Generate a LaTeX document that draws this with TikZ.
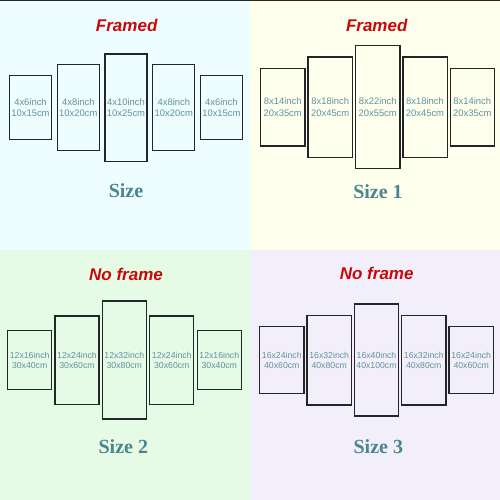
\documentclass[tikz,border=0pt]{standalone}
\usepackage{fontspec}
\setmainfont{Liberation Serif}
\newfontfamily\titlefont{Liberation Sans}
\newfontfamily\panelfont{Liberation Sans}
\definecolor{bgA}{RGB}{238,254,255}
\definecolor{bgB}{RGB}{255,255,238}
\definecolor{bgC}{RGB}{229,251,229}
\definecolor{bgD}{RGB}{243,239,250}
\definecolor{titlered}{RGB}{200,8,10}
\definecolor{sizeteal}{RGB}{74,134,144}
\definecolor{paneltext}{RGB}{96,146,158}
\definecolor{paneledge}{RGB}{35,38,38}
\tikzset{
  panel/.style={draw=paneledge, line width=1.3pt, inner sep=0pt, align=center,
    text=paneltext, font=\panelfont\fontsize{9.4}{11.5}\selectfont},
  panellow/.style={panel, font=\panelfont\fontsize{8.7}{10}\selectfont},
  titletext/.style={text=titlered, font=\titlefont\bfseries\itshape\fontsize{17}{19}\selectfont, inner sep=0pt},
  sizetext/.style={text=sizeteal, font=\bfseries\fontsize{20}{22}\selectfont, inner sep=0pt}
}
\begin{document}
\begin{tikzpicture}[x=1pt,y=-1pt]
\useasboundingbox (0,0) rectangle (500,500);
\fill[bgA] (0,0) rectangle (250,250);
\fill[bgB] (250,0) rectangle (500,250);
\fill[bgC] (0,250) rectangle (250,500);
\fill[bgD] (250,250) rectangle (500,500);
\fill[black!85] (0,0) rectangle (500,1);

% Top-left
\node[titletext] (tA) at (126.7,25) {Framed};
\node[panel, minimum width=42pt, minimum height=63.6pt] (a1) at (30.5,107.5) {4x6inch\\10x15cm};
\node[panel, minimum width=42pt, minimum height=85.6pt] (a2) at (78.3,107.5) {4x8inch\\10x20cm};
\node[panel, minimum width=42pt, minimum height=107.3pt] (a3) at (126,107.7) {4x10inch\\10x25cm};
\node[panel, minimum width=42pt, minimum height=85.6pt] (a4) at (173.8,107.5) {4x8inch\\10x20cm};
\node[panel, minimum width=42pt, minimum height=63.6pt] (a5) at (221.4,107.5) {4x6inch\\10x15cm};
\node[sizetext] (sA) at (126,190.7) {Size};

% Top-right
\node[titletext] (tB) at (376.7,25) {Framed};
\node[panel, minimum width=44.3pt, minimum height=77.7pt] (b1) at (282.7,107.2) {8x14inch\\20x35cm};
\node[panel, minimum width=44.3pt, minimum height=100.3pt] (b2) at (330.2,107.2) {8x18inch\\20x45cm};
\node[panel, minimum width=44.3pt, minimum height=122.6pt] (b3) at (377.7,107) {8x22inch\\20x55cm};
\node[panel, minimum width=44.3pt, minimum height=100.3pt] (b4) at (425,107.2) {8x18inch\\20x45cm};
\node[panel, minimum width=44.3pt, minimum height=77.7pt] (b5) at (472.3,107.2) {8x14inch\\20x35cm};
\node[sizetext] (sB) at (378,191.7) {Size 1};

% Bottom-left
\node[titletext] (tC) at (126,274) {No frame};
\node[panellow, minimum width=44pt, minimum height=58.6pt] (c1) at (29.7,360) {12x16inch\\30x40cm};
\node[panellow, minimum width=44pt, minimum height=88.3pt] (c2) at (77,360.2) {12x24inch\\30x60cm};
\node[panellow, minimum width=44pt, minimum height=118pt] (c3) at (124.3,360) {12x32inch\\30x80cm};
\node[panellow, minimum width=44pt, minimum height=88.3pt] (c4) at (171.8,360.2) {12x24inch\\30x60cm};
\node[panellow, minimum width=44pt, minimum height=58.6pt] (c5) at (219.3,360) {12x16inch\\30x40cm};
\node[sizetext] (sC) at (123.3,446.7) {Size 2};

% Bottom-right
\node[titletext] (tD) at (376.7,273.3) {No frame};
\node[panellow, minimum width=44.5pt, minimum height=67pt] (d1) at (281.8,360.2) {16x24inch\\40x60cm};
\node[panellow, minimum width=44.5pt, minimum height=89.7pt] (d2) at (329.2,360.2) {16x32inch\\40x80cm};
\node[panellow, minimum width=44.5pt, minimum height=112pt] (d3) at (376.5,360) {16x40inch\\40x100cm};
\node[panellow, minimum width=44.5pt, minimum height=89.7pt] (d4) at (423.8,360.2) {16x32inch\\40x80cm};
\node[panellow, minimum width=44.5pt, minimum height=67pt] (d5) at (471.2,360.2) {16x24inch\\40x60cm};
\node[sizetext] (sD) at (378.3,446.7) {Size 3};
\end{tikzpicture}
\end{document}
